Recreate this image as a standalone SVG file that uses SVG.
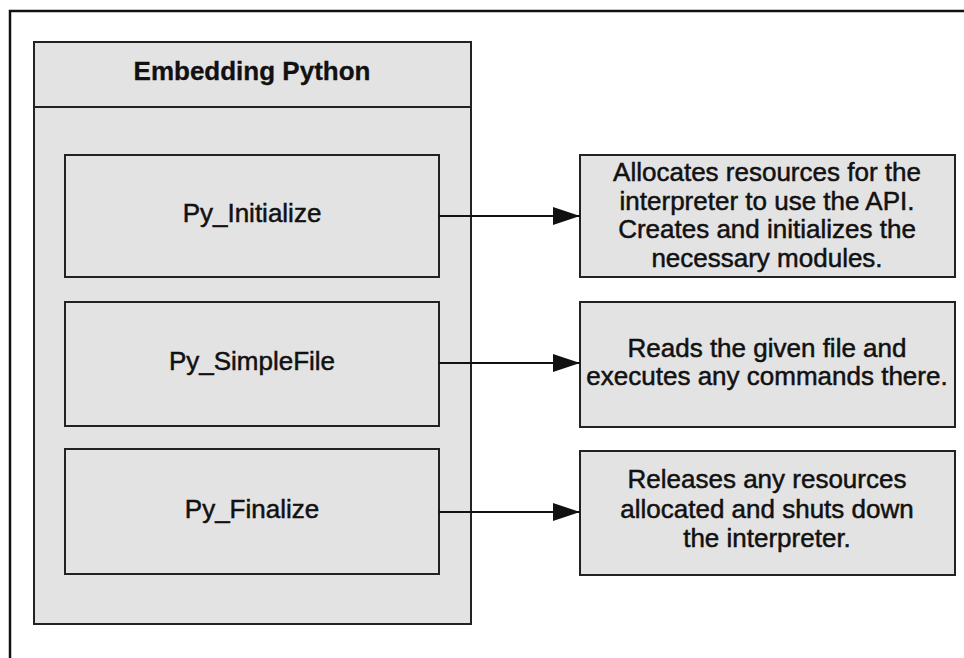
<svg xmlns="http://www.w3.org/2000/svg" width="964" height="658" viewBox="0 0 964 658">
<defs>
<style>
.box{fill:#e3e3e3;stroke:#222;stroke-width:2}
.t{font-family:"Liberation Sans",Arial,sans-serif;font-size:26px;fill:#111;stroke:#111;stroke-width:0.5;text-anchor:middle}
.b{font-weight:bold;stroke-width:0.3}
.c{stroke:#111;stroke-width:2;fill:none}
</style>
<marker id="ah" viewBox="0 0 27 18" refX="27" refY="9" markerWidth="27" markerHeight="18" markerUnits="userSpaceOnUse" orient="auto">
<path d="M0,0 L27,9 L0,18 Z" fill="#111"/>
</marker>
</defs>
<rect x="0" y="0" width="964" height="658" fill="#fff"/>
<g id="frame"><path d="M10,658 L10,11 L964,11" fill="none" stroke="#111" stroke-width="2.5"/></g>
<g id="embedding">
<rect class="box" x="34" y="42" width="437" height="582"/>
<line x1="34" y1="107" x2="471" y2="107" stroke="#222" stroke-width="2"/>
<text class="t b" x="252" y="80">Embedding Python</text>
</g>
<g id="py_initialize">
<rect class="box" x="65" y="155" width="374" height="122"/>
<text class="t" x="252" y="222">Py_Initialize</text>
</g>
<g id="py_simplefile">
<rect class="box" x="65" y="302" width="374" height="124"/>
<text class="t" x="252" y="370">Py_SimpleFile</text>
</g>
<g id="py_finalize">
<rect class="box" x="65" y="449" width="374" height="125"/>
<text class="t" x="252" y="518">Py_Finalize</text>
</g>
<g id="desc_init">
<rect class="box" x="580" y="155" width="375" height="122"/>
<text class="t" x="767" y="181">Allocates resources for the</text>
<text class="t" x="767" y="210">interpreter to use the API.</text>
<text class="t" x="767" y="238">Creates and initializes the</text>
<text class="t" x="767" y="267">necessary modules.</text>
</g>
<g id="desc_simplefile">
<rect class="box" x="580" y="302" width="375" height="125"/>
<text class="t" x="767" y="357">Reads the given file and</text>
<text class="t" x="767" y="385">executes any commands there.</text>
</g>
<g id="desc_finalize">
<rect class="box" x="580" y="451" width="375" height="124"/>
<text class="t" x="767" y="488">Releases any resources</text>
<text class="t" x="767" y="518">allocated and shuts down</text>
<text class="t" x="767" y="547">the interpreter.</text>
</g>
<g id="connectors">
<line class="c" x1="439" y1="216" x2="580" y2="216" marker-end="url(#ah)"/>
<line class="c" x1="439" y1="363" x2="580" y2="363" marker-end="url(#ah)"/>
<line class="c" x1="439" y1="512" x2="580" y2="512" marker-end="url(#ah)"/>
</g>
</svg>
